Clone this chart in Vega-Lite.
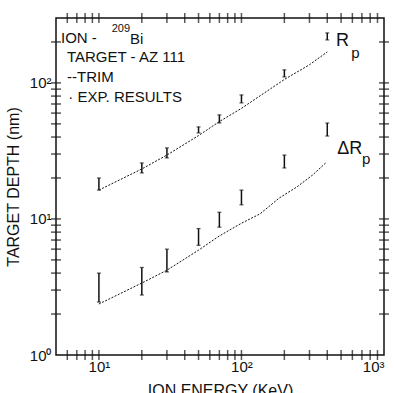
{
  "$schema": "https://vega.github.io/schema/vega-lite/v6.json",
  "width": 328,
  "height": 337,
  "padding": {"left": 5, "top": 13, "right": 0, "bottom": 0},
  "background": "white",
  "config": {"view": {"stroke": "#111", "strokeWidth": 1.5}},
  "datasets": {
    "exp": [
      {"energy": 10, "series": "Rp", "lo": 16.3, "hi": 20.0},
      {"energy": 20, "series": "Rp", "lo": 21.8, "hi": 25.8},
      {"energy": 30, "series": "Rp", "lo": 28.1, "hi": 33.3},
      {"energy": 50, "series": "Rp", "lo": 42.9, "hi": 47.5},
      {"energy": 70, "series": "Rp", "lo": 50.8, "hi": 58.2},
      {"energy": 100, "series": "Rp", "lo": 71.3, "hi": 81.6},
      {"energy": 200, "series": "Rp", "lo": 110.7, "hi": 124.7},
      {"energy": 400, "series": "Rp", "lo": 207, "hi": 233},
      {"energy": 10, "series": "dRp", "lo": 2.45, "hi": 4.0},
      {"energy": 20, "series": "dRp", "lo": 2.76, "hi": 4.4},
      {"energy": 30, "series": "dRp", "lo": 4.08, "hi": 6.0},
      {"energy": 50, "series": "dRp", "lo": 6.4, "hi": 8.5},
      {"energy": 70, "series": "dRp", "lo": 8.7, "hi": 11.2},
      {"energy": 100, "series": "dRp", "lo": 12.7, "hi": 16.3},
      {"energy": 200, "series": "dRp", "lo": 23.7, "hi": 29.5},
      {"energy": 400, "series": "dRp", "lo": 40.7, "hi": 50.7}
    ],
    "trim": [
      {"energy": 10, "series": "Rp", "depth": 16.3},
      {"energy": 20, "series": "Rp", "depth": 23.3},
      {"energy": 30, "series": "Rp", "depth": 29.5},
      {"energy": 50, "series": "Rp", "depth": 41},
      {"energy": 70, "series": "Rp", "depth": 52},
      {"energy": 100, "series": "Rp", "depth": 65},
      {"energy": 200, "series": "Rp", "depth": 106},
      {"energy": 300, "series": "Rp", "depth": 136},
      {"energy": 400, "series": "Rp", "depth": 169},
      {"energy": 10, "series": "dRp", "depth": 2.37},
      {"energy": 20, "series": "dRp", "depth": 3.38},
      {"energy": 30, "series": "dRp", "depth": 4.2},
      {"energy": 50, "series": "dRp", "depth": 5.9},
      {"energy": 70, "series": "dRp", "depth": 7.5},
      {"energy": 100, "series": "dRp", "depth": 9.3},
      {"energy": 135, "series": "dRp", "depth": 10.9},
      {"energy": 185, "series": "dRp", "depth": 14.3},
      {"energy": 245, "series": "dRp", "depth": 17.2},
      {"energy": 315, "series": "dRp", "depth": 21},
      {"energy": 390, "series": "dRp", "depth": 25.8}
    ],
    "xTicks": [{"v": 6}, {"v": 7}, {"v": 8}, {"v": 9}, {"v": 10}, {"v": 20}, {"v": 30}, {"v": 40}, {"v": 50}, {"v": 60}, {"v": 70}, {"v": 80}, {"v": 90}, {"v": 100}, {"v": 200}, {"v": 300}, {"v": 400}, {"v": 500}, {"v": 600}, {"v": 700}, {"v": 800}, {"v": 900}],
    "yTicks": [{"v": 2}, {"v": 3}, {"v": 4}, {"v": 5}, {"v": 6}, {"v": 7}, {"v": 8}, {"v": 9}, {"v": 10}, {"v": 20}, {"v": 30}, {"v": 40}, {"v": 50}, {"v": 60}, {"v": 70}, {"v": 80}, {"v": 90}, {"v": 100}, {"v": 200}],
    "bigLabels": [
      {"energy": 461, "depth": 204, "text": "R"},
      {"energy": 469, "depth": 32.7, "text": "ΔR"}
    ],
    "subLabels": [
      {"energy": 588, "depth": 166, "text": "p"},
      {"energy": 700, "depth": 27.5, "text": "p"}
    ],
    "legendText": [
      {"energy": 5.42, "depth": 214, "text": "ION -"},
      {"energy": 16.5, "depth": 210, "text": "Bi"},
      {"energy": 5.97, "depth": 155, "text": "TARGET - AZ 111"},
      {"energy": 5.97, "depth": 111, "text": "--TRIM"},
      {"energy": 6.1, "depth": 78.9, "text": "·  EXP. RESULTS"}
    ],
    "supText": [
      {"energy": 12.3, "depth": 248, "text": "209"}
    ]
  },
  "layer": [
    {
      "data": {"name": "trim"},
      "mark": {"type": "line", "color": "#111", "strokeWidth": 1, "strokeDash": [2, 1.5]},
      "encoding": {
        "x": {"field": "energy", "type": "quantitative",
          "scale": {"type": "log", "domain": [5, 1000], "nice": false},
          "axis": {"values": [10, 100, 1000], "grid": false, "domain": false, "ticks": false, "labelPadding": 4,
            "labelExpr": "datum.value == 10 ? '10¹' : datum.value == 100 ? '10²' : '10³'",
            "labelFont": "Liberation Sans", "labelColor": "#111", "labelFontSize": 15,
            "title": "ION ENERGY (KeV)", "titleFont": "Liberation Sans", "titleFontWeight": "normal", "titleColor": "#111", "titleFontSize": 16, "titlePadding": 8}},
        "y": {"field": "depth", "type": "quantitative",
          "scale": {"type": "log", "domain": [1, 300], "nice": false},
          "axis": {"values": [1, 10, 100], "grid": false, "domain": false, "ticks": false, "labelPadding": 5,
            "labelExpr": "datum.value == 1 ? '10⁰' : datum.value == 10 ? '10¹' : '10²'",
            "labelFont": "Liberation Sans", "labelColor": "#111", "labelFontSize": 15,
            "title": "TARGET DEPTH (nm)", "titleFont": "Liberation Sans", "titleFontWeight": "normal", "titleColor": "#111", "titleFontSize": 16, "titlePadding": 8}},
        "detail": {"field": "series"}
      }
    },
    {
      "data": {"name": "exp"},
      "mark": {"type": "rule", "color": "#111", "strokeWidth": 1.5},
      "encoding": {
        "x": {"field": "energy", "type": "quantitative"},
        "y": {"field": "lo", "type": "quantitative"},
        "y2": {"field": "hi"}
      }
    },
    {
      "data": {"name": "exp"},
      "mark": {"type": "tick", "orient": "horizontal", "color": "#111", "size": 4, "thickness": 1.2},
      "encoding": {
        "x": {"field": "energy", "type": "quantitative"},
        "y": {"field": "lo", "type": "quantitative"}
      }
    },
    {
      "data": {"name": "exp"},
      "mark": {"type": "tick", "orient": "horizontal", "color": "#111", "size": 4, "thickness": 1.2},
      "encoding": {
        "x": {"field": "energy", "type": "quantitative"},
        "y": {"field": "hi", "type": "quantitative"}
      }
    },
    {
      "data": {"name": "xTicks"},
      "mark": {"type": "tick", "orient": "vertical", "color": "#111", "size": 10, "thickness": 1.5},
      "encoding": {
        "x": {"field": "v", "type": "quantitative"},
        "y": {"datum": 1, "type": "quantitative"}
      }
    },
    {
      "data": {"name": "xTicks"},
      "mark": {"type": "tick", "orient": "vertical", "color": "#111", "size": 10, "thickness": 1.5},
      "encoding": {
        "x": {"field": "v", "type": "quantitative"},
        "y": {"datum": 300, "type": "quantitative"}
      }
    },
    {
      "data": {"name": "yTicks"},
      "mark": {"type": "tick", "orient": "horizontal", "color": "#111", "size": 10, "thickness": 1.5},
      "encoding": {
        "y": {"field": "v", "type": "quantitative"},
        "x": {"datum": 5, "type": "quantitative"}
      }
    },
    {
      "data": {"name": "yTicks"},
      "mark": {"type": "tick", "orient": "horizontal", "color": "#111", "size": 10, "thickness": 1.5},
      "encoding": {
        "y": {"field": "v", "type": "quantitative"},
        "x": {"datum": 1000, "type": "quantitative"}
      }
    },
    {
      "data": {"name": "bigLabels"},
      "mark": {"type": "text", "align": "left", "baseline": "middle", "fontSize": 18, "color": "#111", "font": "Liberation Sans"},
      "encoding": {
        "x": {"field": "energy", "type": "quantitative"},
        "y": {"field": "depth", "type": "quantitative"},
        "text": {"field": "text"}
      }
    },
    {
      "data": {"name": "subLabels"},
      "mark": {"type": "text", "align": "left", "baseline": "middle", "fontSize": 15, "color": "#111", "font": "Liberation Sans"},
      "encoding": {
        "x": {"field": "energy", "type": "quantitative"},
        "y": {"field": "depth", "type": "quantitative"},
        "text": {"field": "text"}
      }
    },
    {
      "data": {"name": "legendText"},
      "mark": {"type": "text", "align": "left", "baseline": "middle", "fontSize": 15, "color": "#111", "font": "Liberation Sans"},
      "encoding": {
        "x": {"field": "energy", "type": "quantitative"},
        "y": {"field": "depth", "type": "quantitative"},
        "text": {"field": "text"}
      }
    },
    {
      "data": {"name": "supText"},
      "mark": {"type": "text", "align": "left", "baseline": "middle", "fontSize": 11, "color": "#111", "font": "Liberation Sans"},
      "encoding": {
        "x": {"field": "energy", "type": "quantitative"},
        "y": {"field": "depth", "type": "quantitative"},
        "text": {"field": "text"}
      }
    }
  ]
}
